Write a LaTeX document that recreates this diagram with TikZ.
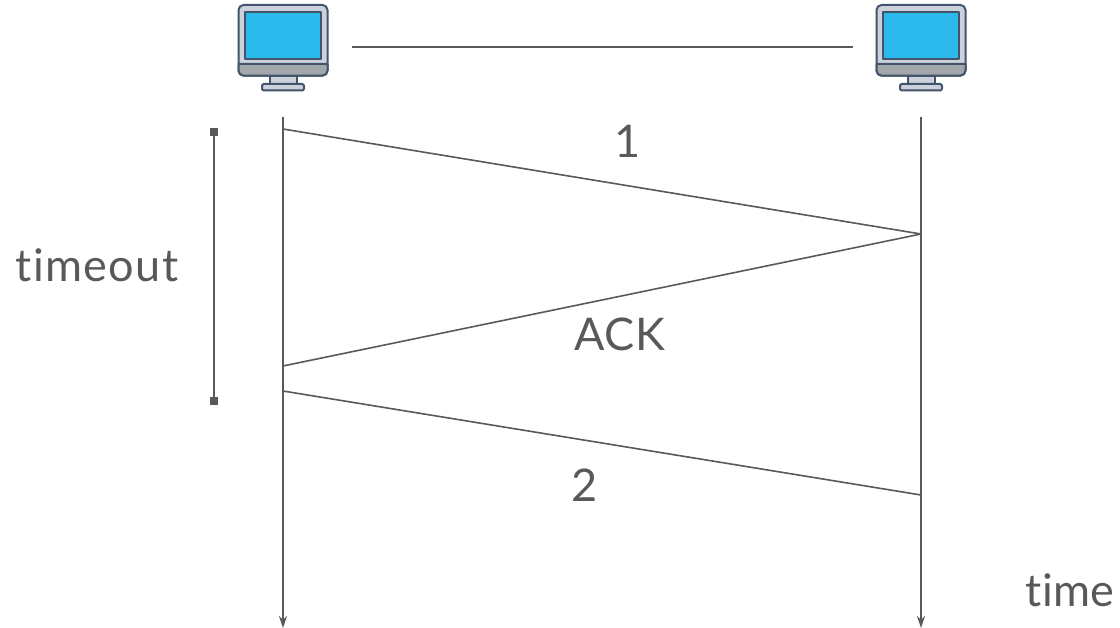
\documentclass[tikz,border=0pt]{standalone}
\usepackage{fontspec}
\setmainfont{Lato}[Ligatures=NoCommon,LetterSpace=1.0]
\usetikzlibrary{arrows.meta}
\definecolor{ink}{HTML}{595959}
\definecolor{frame}{HTML}{44546A}
\definecolor{bez}{HTML}{CBD2DC}
\definecolor{scr}{HTML}{2CB9EC}
\definecolor{band}{HTML}{A2A7AB}
\tikzset{
  wire/.style={draw=ink,line width=1.6pt},
  life/.style={wire,-{Stealth[length=12pt,width=8pt,inset=4pt]}},
  sq/.style={fill=ink,minimum size=8pt,inner sep=0pt,draw=none,rectangle},
  lbl/.style={text=ink,inner sep=0pt,font=\fontsize{45}{45}\selectfont,anchor=base},
  mon/.style={draw=frame,line width=2pt,line join=round},
  monitor/.pic={
    \draw[mon,fill=bez] (-13,75.6) rectangle (13.5,84);
    \draw[mon,fill=bez,rounded corners=2pt] (-21,84) rectangle (21,90.5);
    \draw[mon,fill=bez,rounded corners=5pt] (-44.5,5) rectangle (44.5,75.6);
    \draw[mon,fill=band] (-44.5,64) -- (44.5,64) [rounded corners=5pt] -- (44.5,75.6) -- (-44.5,75.6) [sharp corners] -- cycle;
    \draw[mon,fill=scr] (-38,12.5) rectangle (38,59);
  }
}
\begin{document}
\begin{tikzpicture}[x=1pt,y=-1pt]
\useasboundingbox (0,0) rectangle (1120,628);
\pic at (283,0) {monitor};
\pic at (921,0) {monitor};
\coordinate (linkL) at (352,47);
\coordinate (linkR) at (853,47);
\draw[wire] (linkL) -- (linkR);
\coordinate (aTop) at (283,117);
\coordinate (aEnd) at (283,628);
\coordinate (bTop) at (921,117);
\coordinate (bEnd) at (921,628);
\draw[life] (aTop) -- (aEnd);
\draw[life] (bTop) -- (bEnd);
\coordinate (s1) at (283,129);
\coordinate (r1) at (921,234);
\coordinate (a1) at (283,366);
\coordinate (s2) at (283,391);
\coordinate (r2) at (921,495);
\draw[wire] (s1) -- (r1);
\draw[wire] (r1) -- (a1);
\draw[wire] (s2) -- (r2);
\node[sq] (tTop) at (214,132) {};
\node[sq] (tBot) at (214,401) {};
\draw[wire] (tTop) -- (tBot);
\node[lbl] (one) at (628,158) {1};
\node[lbl] (ack) at (620,351) {ACK};
\node[lbl] (two) at (585,501) {2};
\node[lbl] (timeout) at (97,282) {\addfontfeature{LetterSpace=3.0}timeout};
\node[lbl] (time) at (1070,606) {time};
\end{tikzpicture}
\end{document}
